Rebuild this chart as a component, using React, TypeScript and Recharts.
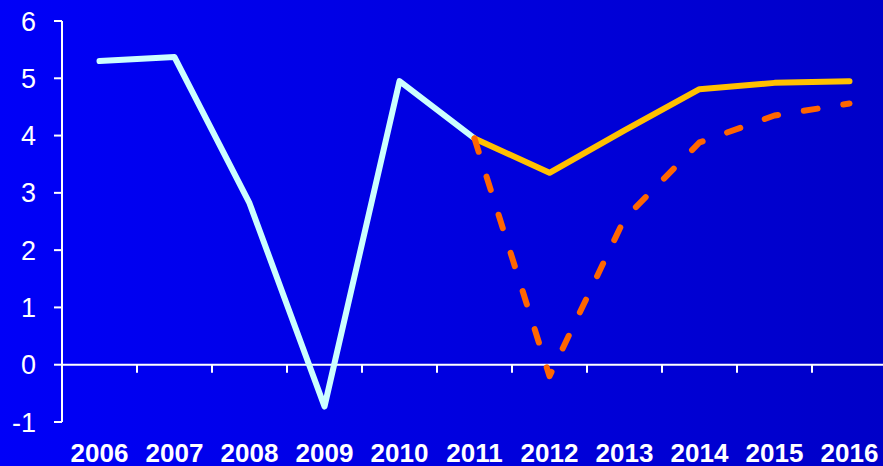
import React from 'react';
import { LineChart, Line, XAxis, YAxis, ReferenceLine } from 'recharts';

// Years on the category axis
const YEARS = ['2006', '2007', '2008', '2009', '2010', '2011', '2012', '2013', '2014', '2015', '2016'];

// Outturn up to 2011, then the two projections
const ACTUAL = [5.3, 5.37, 2.82, -0.73, 4.95, 3.95, null, null, null, null, null];
const BASELINE = [null, null, null, null, null, 3.95, 3.35, 4.09, 4.81, 4.92, 4.95];
const ADVERSE = [null, null, null, null, null, 3.95, -0.2, 2.55, 3.88, 4.35, 4.56];

const Y_TICKS = [-1, 0, 1, 2, 3, 4, 5, 6];
// tick marks sit on the boundaries between the year slots
const BOUNDARIES = [1, 2, 3, 4, 5, 6, 7, 8, 9, 10, 11];
const BOUNDARY_TICK = 0.14;

const FONT = '"Liberation Sans", Arial, sans-serif';

const data = YEARS.map((year, i) => ({
  year,
  slot: i,
  actual: ACTUAL[i],
  baseline: BASELINE[i],
  adverse: ADVERSE[i],
}));

export default function App() {
  return (
    <div
      style={{
        position: 'fixed',
        top: 0,
        left: 0,
        width: 883,
        height: 466,
        overflow: 'hidden',
        background: 'linear-gradient(to right, #0000f8, #0000c8)',
      }}
    >
      <LineChart width={887} height={466} data={data} margin={{ top: 21, right: 0, bottom: 0, left: 0 }}>
        <XAxis
          dataKey="year"
          scale="band"
          axisLine={false}
          tickLine={false}
          tickSize={0}
          tickMargin={22}
          height={44}
          interval={0}
          tick={{ fill: '#ffffff', fontSize: 26, fontWeight: 'bold', fontFamily: FONT }}
        />
        <XAxis
          xAxisId="grid"
          dataKey="slot"
          type="number"
          domain={[0, YEARS.length]}
          allowDataOverflow
          hide
        />
        <YAxis
          domain={[-1, 6]}
          ticks={Y_TICKS}
          width={62}
          axisLine={{ stroke: '#ffffff', strokeWidth: 2 }}
          tickLine={{ stroke: '#ffffff', strokeWidth: 2 }}
          tickSize={8}
          tickMargin={18}
          tick={{ fill: '#ffffff', fontSize: 27, fontFamily: FONT }}
        />
        <ReferenceLine y={0} stroke="#ffffff" strokeWidth={2} />
        {BOUNDARIES.map((b) => (
          <ReferenceLine
            key={b}
            xAxisId="grid"
            segment={[{ x: b, y: 0 }, { x: b, y: -BOUNDARY_TICK }]}
            stroke="#ffffff"
            strokeWidth={2}
            ifOverflow="visible"
          />
        ))}
        <Line
          dataKey="actual"
          stroke="#ccffff"
          strokeWidth={6}
          strokeLinecap="round"
          strokeLinejoin="round"
          dot={false}
          isAnimationActive={false}
        />
        <Line
          dataKey="baseline"
          stroke="#ffc000"
          strokeWidth={6}
          strokeLinecap="round"
          strokeLinejoin="round"
          dot={false}
          isAnimationActive={false}
        />
        <Line
          dataKey="adverse"
          stroke="#ff6600"
          strokeWidth={6}
          strokeDasharray="14 26"
          strokeLinecap="round"
          strokeLinejoin="round"
          dot={false}
          isAnimationActive={false}
        />
      </LineChart>
    </div>
  );
}
